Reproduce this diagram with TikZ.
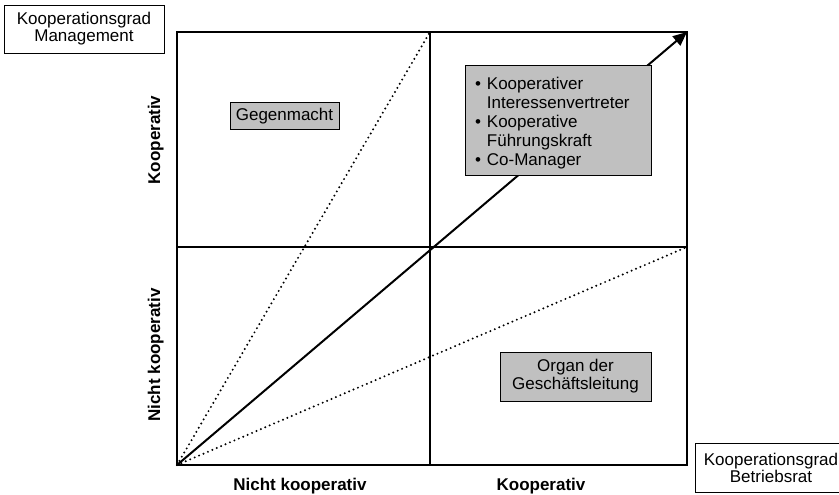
\documentclass[tikz,border=0pt]{standalone}
\usepackage{fontspec}
\setmainfont{Liberation Sans}
\usetikzlibrary{arrows.meta}
\begin{document}
\begin{tikzpicture}[x=1pt,y=-1pt,
  lbl/.style={draw=black,line width=0.8pt,fill=white,align=center,inner sep=0pt,font=\fontsize{17}{17}\selectfont},
  gbox/.style={draw=black,line width=1pt,fill=boxgray,align=center,inner sep=0pt,font=\fontsize{17}{18}\selectfont},
  axl/.style={font=\bfseries\fontsize{17}{17}\selectfont,anchor=base},
  frame/.style={line width=2pt},
  dots/.style={line width=2.2pt,dash pattern=on 0pt off 4.8pt,line cap=round}]
\definecolor{boxgray}{RGB}{192,192,192}
\useasboundingbox (0,0) rectangle (839,495);
% frame and grid
\coordinate (bl) at (177,465);
\coordinate (tr) at (687,32);
\coordinate (tm) at (430,32);
\coordinate (rm) at (687,247);
\draw[frame] (177,32) rectangle (687,465);
\draw[frame] (430,32) -- (430,465);
\draw[frame] (177,247) -- (687,247);
% diagonals
\draw[dots] (bl) -- (tm);
\draw[dots] (bl) -- (rm);
\draw[line width=2pt,-{Triangle[length=14pt,width=12pt]}] (bl) -- (tr);
% boxes
\node[lbl,minimum width=160pt,minimum height=48pt] (mgmt) at (84,29) {Kooperationsgrad\\Management};
\node[lbl,minimum width=152pt,minimum height=49pt] (br) at (771,467.5) {Kooperationsgrad\\Betriebsrat};
\node[gbox,minimum width=109pt,minimum height=27pt] (gm) at (284.5,116.5) {Gegenmacht};
\node[gbox,minimum width=186pt,minimum height=109pt,text width=166pt,align=left,font=\fontsize{17}{19}\selectfont] (koop) at (558,120.5) {%
  \setlength{\tabcolsep}{0pt}%
  \raisebox{-3pt}[\height][\depth]{\begin{tabular}{@{}l@{\hspace{6pt}}l@{}}
  • & Kooperativer\\
    & Interessenvertreter\\
  • & Kooperative\\
    & Führungskraft\\
  • & Co-Manager
  \end{tabular}}};
\node[gbox,minimum width=151pt,minimum height=49pt] (org) at (575.5,376.5) {Organ der\\Geschäftsleitung};
% axis labels
\node[axl] (xnk) at (300,490) {Nicht kooperativ};
\node[axl] (xk) at (541,490) {Kooperativ};
\node[axl,rotate=90] (yk) at (160,140) {Kooperativ};
\node[axl,rotate=90] (ynk) at (160,355) {Nicht kooperativ};
\end{tikzpicture}
\end{document}
